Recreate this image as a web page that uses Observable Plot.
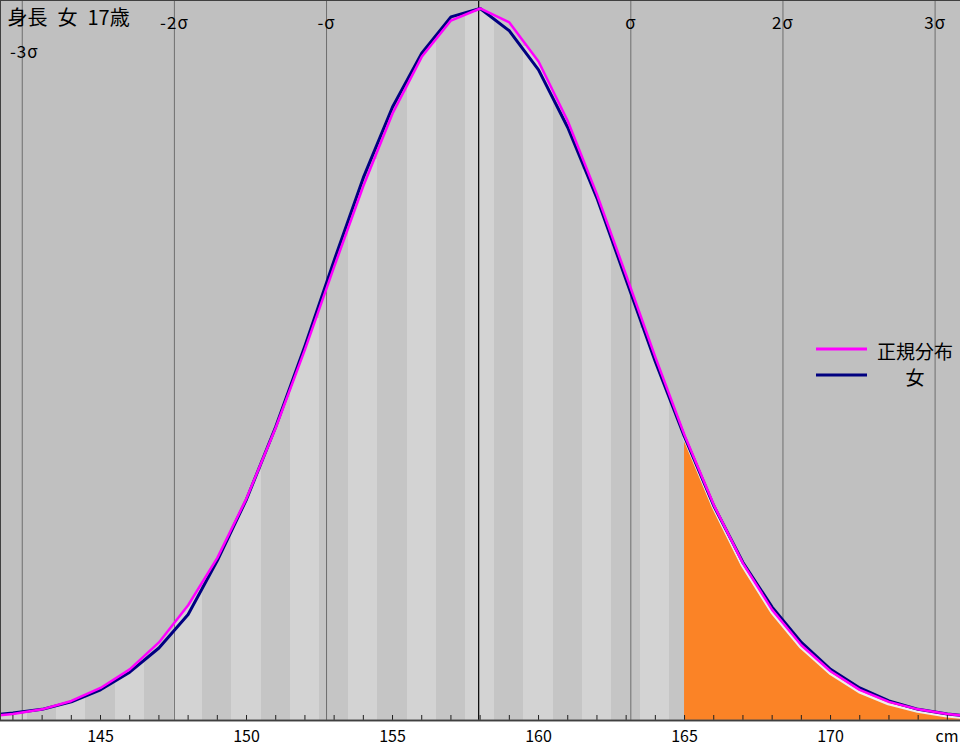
<!DOCTYPE html>
<html>
<head>
<meta charset="utf-8">
<script src="https://cdn.jsdelivr.net/npm/d3@7"></script>
<script src="https://cdn.jsdelivr.net/npm/@observablehq/plot@0.6"></script>
<style>
  html, body { margin: 0; padding: 0; background: #ffffff; }
  #wrap { position: relative; width: 960px; height: 746px; }
  #legend { position: absolute; left: 0; top: 0; pointer-events: none; }
</style>
</head>
<body>
<div id="wrap"></div>
<script>
// ---- data ----
const title = "身長\u2002女\u200217歳";
const heightCm = [141,142,143,144,145,146,147,148,149,150,151,152,153,154,155,156,157,158,159,160,161,162,163,164,165,166,167,168,169,170,171,172,173,174,175];
const normalPct = [0.04,0.07,0.12,0.21,0.35,0.55,0.84,1.24,1.75,2.39,3.15,3.99,4.88,5.75,6.53,7.14,7.53,7.66,7.51,7.09,6.45,5.66,4.79,3.91,3.07,2.32,1.69,1.19,0.81,0.53,0.33,0.20,0.12,0.07,0.04];
const femalePct = [0.05,0.08,0.12,0.20,0.33,0.52,0.78,1.14,1.72,2.38,3.16,4.03,4.95,5.84,6.60,7.18,7.57,7.66,7.42,7.00,6.38,5.62,4.74,3.86,3.05,2.31,1.70,1.22,0.84,0.55,0.35,0.21,0.12,0.07,0.04];
const binCenters = [142,143,144,145,146,147,148,149,150,151,152,153,154,155,156,157,158,159,160,161,162,163,164,165];
const binTops = [0.09,0.15,0.26,0.42,0.66,0.99,1.43,1.99,2.69,3.47,4.33,5.21,6.04,6.76,7.30,7.60,7.66,7.58,7.25,6.70,5.93,5.10,4.22,3.40];
const meanCm = 157.95;
const sdCm = 5.21;
const sigmaK = [-3,-2,-1,1,2,3];
const sigmaLabels = ["-3σ","-2σ","-σ","σ","2σ","3σ"];
const highlightFrom = 165;
const tickLabels = [145,150,155,160,165,170];
const minorTicks = [142,143,144,145,146,147,148,149,150,151,152,153,154,155,156,157,158,159,160,161,162,163,164,165,166,167,168,169,170,171,172,173,174];
const xDomain = [141.575, 174.45];
const yMax = 7.746;
const legendItems = [{label: "正規分布", color: "#ff00ff"}, {label: "女", color: "#000080"}];

// ---- tables built from the arrays ----
const curve = heightCm.map((c, i) => ({cm: c, normal: normalPct[i], female: femalePct[i]}));
const tail = curve.filter(d => d.cm >= highlightFrom);
const bins = binCenters.map((c, i) => ({c, top: binTops[i]}));
const sigmas = sigmaK.map((k, i) => ({x: meanCm + k * sdCm, label: sigmaLabels[i], k}));

const BG = "#c0c0c0";
const font = "'Noto Sans CJK JP', 'Noto Sans', sans-serif";

const chart = Plot.plot({
  width: 960,
  height: 746,
  marginTop: 0,
  marginRight: 0,
  marginBottom: 26,
  marginLeft: 0,
  x: {domain: xDomain},
  y: {domain: [0, yMax], axis: null},
  style: {background: "#ffffff", fontFamily: font, color: "#000"},
  marks: [
    Plot.frame({fill: BG}),
    Plot.rectY(bins, {
      x1: d => d.c - 0.5, x2: d => d.c + 0.5, y: "top",
      fill: d => d.c % 2 === 0 ? "#d3d3d3" : "#c5c5c5",
      shapeRendering: "crispEdges", clip: true
    }),
    Plot.areaY(curve, {x: "cm", y1: "normal", y2: yMax, fill: BG, clip: true}),
    Plot.ruleX(sigmas, {x: "x", stroke: "#6e6e6e", strokeWidth: 1}),
    Plot.ruleX([meanCm], {stroke: "#000000", strokeWidth: 1.2}),
    Plot.areaY(tail, {x: "cm", y: "normal", fill: "#fb8326", clip: true}),
    Plot.line(tail, {x: "cm", y: "normal", stroke: "#eeeeee", strokeWidth: 2.5, dy: 2.2, dx: -0.8, clip: true}),
    Plot.line(curve, {x: "cm", y: "female", stroke: "#000080", strokeWidth: 3, clip: true}),
    Plot.line(curve, {x: "cm", y: "normal", stroke: "#ff00ff", strokeWidth: 2.5, clip: true}),
    Plot.ruleX(minorTicks, {stroke: "#202020", strokeWidth: 1, insetTop: 715}),
    Plot.ruleY([0], {stroke: "#505050", strokeWidth: 2}),
    Plot.axisX(tickLabels, {anchor: "bottom", tickSize: 0, tickPadding: 10, fontSize: 16, fill: "#000"}),
    Plot.text(sigmas.filter(d => d.k !== -3), {x: "x", text: "label", frameAnchor: "top", dy: 16, fontSize: 17, fill: "#000"}),
    Plot.text(sigmas.filter(d => d.k === -3), {x: "x", text: "label", frameAnchor: "top", dy: 45, dx: 2, fontSize: 17, fill: "#000"}),
    Plot.text([title], {frameAnchor: "top-left", textAnchor: "start", lineAnchor: "middle", dx: 7, dy: 18, fontSize: 20, fill: "#000"}),
    Plot.text(["cm"], {frameAnchor: "bottom-right", textAnchor: "end", lineAnchor: "middle", dx: -2, dy: 16, fontSize: 16, fill: "#000"}),
    Plot.frame({stroke: "#404040", strokeWidth: 1})
  ]
});

// slightly wider spacing on the sigma labels, as in the reference
d3.select(chart).selectAll("text")
  .filter(function () { return this.textContent.includes("σ"); })
  .style("letter-spacing", "1px");

const wrap = document.getElementById("wrap");
wrap.appendChild(chart);

// legend (SVG overlay at the right)
const ns = "http://www.w3.org/2000/svg";
const leg = document.createElementNS(ns, "svg");
leg.setAttribute("id", "legend");
leg.setAttribute("width", 960);
leg.setAttribute("height", 746);
legendItems.forEach((item, i) => {
  const y = 349 + i * 26;
  const ln = document.createElementNS(ns, "line");
  ln.setAttribute("x1", 816); ln.setAttribute("x2", 867);
  ln.setAttribute("y1", y); ln.setAttribute("y2", y);
  ln.setAttribute("stroke", item.color); ln.setAttribute("stroke-width", 3);
  leg.appendChild(ln);
  const t = document.createElementNS(ns, "text");
  t.setAttribute("x", 915); t.setAttribute("y", y + 1);
  t.setAttribute("text-anchor", "middle");
  t.setAttribute("dominant-baseline", "central");
  t.setAttribute("font-family", font);
  t.setAttribute("font-size", 19);
  t.setAttribute("fill", "#000");
  t.textContent = item.label;
  leg.appendChild(t);
});
wrap.appendChild(leg);
</script>
</body>
</html>
